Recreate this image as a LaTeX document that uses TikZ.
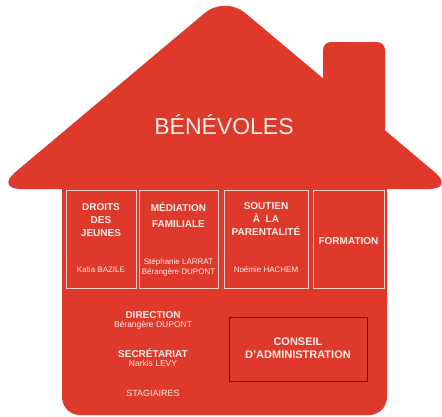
\documentclass[tikz,border=0pt]{standalone}
\usepackage{fontspec}
\setmainfont{Liberation Sans}
\definecolor{housered}{RGB}{222,57,42}
\definecolor{txt}{RGB}{252,238,234}
\definecolor{boxline}{RGB}{246,208,200}
\definecolor{darkline}{RGB}{105,24,16}
\tikzset{
  housefill/.style={fill=housered},
  title/.style={text=txt, font=\fontsize{23}{26}\selectfont, inner sep=0},
  head/.style={text=txt, font=\bfseries\fontsize{10}{13}\selectfont, align=center, inner sep=0},
  headwide/.style={text=txt, font=\bfseries\fontsize{10}{16}\selectfont, align=center, inner sep=0},
  person/.style={text=txt, font=\fontsize{8}{10}\selectfont, align=center, inner sep=0},
  personb/.style={text=txt, font=\fontsize{8.5}{10}\selectfont, align=center, inner sep=0},
  plain/.style={text=txt, font=\fontsize{9}{11}\selectfont, inner sep=0},
  service/.style={draw=boxline, line width=0.8pt, minimum height=98pt, inner sep=0},
  board/.style={draw=darkline, line width=1pt, minimum width=138pt, minimum height=64pt, inner sep=0},
  boardtext/.style={text=txt, font=\bfseries\fontsize{11}{13}\selectfont, align=center, inner sep=0},
}
\begin{document}
\begin{tikzpicture}[x=1pt,y=-1pt]
\useasboundingbox (0,0) rectangle (442,416);
% roof
\fill[housefill, rounded corners=26pt] (-4.8,189) -- (454.8,189) -- (225,-4) -- cycle;
% chimney
\fill[housefill, rounded corners=8pt] (323,150) -- (323,42) -- (385,42) -- (385,150) -- cycle;
% body
\fill[housefill, rounded corners=18pt] (62,150) -- (62,415) -- (387,415) -- (387,150) -- cycle;

\node[title] (ben) at (224,125) {BÉNÉVOLES};

% service boxes
\node[service, minimum width=70pt] (b1) at (101,239) {};
\node[service, minimum width=79pt] (b2) at (178.5,239) {};
\node[service, minimum width=84pt] (b3) at (266,239) {};
\node[service, minimum width=71pt] (b4) at (348.5,239) {};

\node[head] (h1) at (101,220) {DROITS\\DES\\JEUNES};
\node[person] (p1) at (101,270) {Katia BAZILE};
\node[headwide] (h2) at (178.5,215) {MÉDIATION\\FAMILIALE};
\node[person] (p2) at (178.5,267) {Stéphanie LARRAT\\Bérangère DUPONT};
\node[head] (h3) at (266,219.5) {SOUTIEN\\À\ \ LA\\PARENTALITÉ};
\node[person] (p3) at (266,270) {Noémie HACHEM};
\node[head] (h4) at (348.5,241) {FORMATION};

% lower part
\node[head] (dir) at (153,315) {DIRECTION};
\node[personb] (dirn) at (153,325.5) {Bérangère DUPONT};
\node[head] (sec) at (153,353) {SECRÉTARIAT};
\node[personb] (secn) at (153,363.5) {Narkis LEVY};
\node[plain] (stag) at (153,393) {STAGIAIRES};

\node[board] (ca) at (298,349) {};
\node[boardtext] (cat) at (298,348.5) {CONSEIL\\D'ADMINISTRATION};
\end{tikzpicture}
\end{document}
